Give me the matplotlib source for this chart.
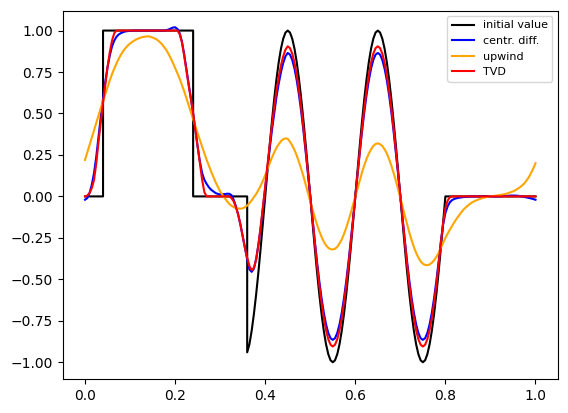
import numpy as np
import matplotlib
matplotlib.use("Agg")
import matplotlib.pyplot as plt

# grid of the numerical solution (dx = 0.005)
x = np.linspace(0.0, 1.0, 201)

# initial value: step part + wave packet
x_step = [0.0, 0.04, 0.04, 0.24, 0.24, 0.36]
y_step = [0.0, 0.0, 1.0, 1.0, 0.0, 0.0]
x_wave = np.linspace(0.36, 0.80, 89)
y_wave = [-0.94, -0.891, -0.809, -0.707, -0.588, -0.454, -0.309, -0.156, 0.0,
          0.156, 0.309, 0.454, 0.588, 0.707, 0.809, 0.891, 0.951, 0.988, 1.0,
          0.988, 0.951, 0.891, 0.809, 0.707, 0.588, 0.454, 0.309, 0.156, 0.0,
          -0.156, -0.309, -0.454, -0.588, -0.707, -0.809, -0.891, -0.951, -0.988, -1.0,
          -0.988, -0.951, -0.891, -0.809, -0.707, -0.588, -0.454, -0.309, -0.156, 0.0,
          0.156, 0.309, 0.454, 0.588, 0.707, 0.809, 0.891, 0.951, 0.988, 1.0,
          0.988, 0.951, 0.891, 0.809, 0.707, 0.588, 0.454, 0.309, 0.156, 0.0,
          -0.156, -0.309, -0.454, -0.588, -0.707, -0.809, -0.891, -0.951, -0.988, -1.0,
          -0.988, -0.951, -0.891, -0.809, -0.707, -0.588, -0.454, -0.309, -0.156, 0.0]
x_tail = [1.0]
y_tail = [0.0]

centr_diff = [
    -0.02, -0.01, 0.02, 0.07, 0.14, 0.24, 0.36, 0.48, 0.59, 0.69,
    0.78, 0.85, 0.905, 0.94, 0.963, 0.977, 0.985, 0.991, 0.995, 0.997,
    0.998, 0.999, 1.0, 1.0, 1.0, 1.0, 1.0, 1.0, 1.0, 1.0,
    1.0, 1.0, 1.0, 1.0, 1.0, 1.0, 1.002, 1.006, 1.012, 1.018,
    1.02, 1.01, 0.985, 0.935, 0.86, 0.77, 0.68, 0.59, 0.50, 0.40,
    0.30, 0.21, 0.14, 0.10, 0.075, 0.055, 0.04, 0.03, 0.02, 0.015,
    0.012, 0.012, 0.014, 0.016, 0.016, 0.008, -0.02, -0.06, -0.11, -0.17,
    -0.24, -0.31, -0.38, -0.44, -0.455, -0.435, -0.375, -0.29, -0.19, -0.07,
    0.05, 0.17, 0.29, 0.40, 0.50, 0.60, 0.68, 0.75, 0.805, 0.845,
    0.865, 0.855, 0.823, 0.771, 0.70, 0.612, 0.509, 0.393, 0.267, 0.135,
    0.0, -0.135, -0.267, -0.393, -0.509, -0.612, -0.70, -0.771, -0.823, -0.855,
    -0.865, -0.855, -0.823, -0.771, -0.70, -0.612, -0.509, -0.393, -0.267, -0.135,
    0.0, 0.135, 0.267, 0.393, 0.509, 0.612, 0.70, 0.771, 0.823, 0.855,
    0.865, 0.855, 0.823, 0.771, 0.70, 0.612, 0.509, 0.393, 0.267, 0.135,
    0.0, -0.135, -0.267, -0.393, -0.509, -0.612, -0.70, -0.771, -0.823, -0.855,
    -0.865, -0.855, -0.823, -0.771, -0.70, -0.612, -0.509, -0.393, -0.27, -0.17,
    -0.10, -0.06, -0.035, -0.022, -0.015, -0.011, -0.008, -0.006, -0.004, -0.003,
    -0.002, -0.001, 0.0, 0.0, 0.0, 0.0, 0.0, 0.0, 0.0, 0.0,
    0.0, 0.0, 0.0, 0.0, 0.0, 0.001, 0.002, 0.003, 0.004, 0.005,
    0.005, 0.005, 0.004, 0.002, 0.0, -0.003, -0.006, -0.009, -0.012, -0.016,
    -0.02]

upwind = [
    0.22, 0.265, 0.31, 0.355, 0.40, 0.445, 0.49, 0.533, 0.575, 0.618,
    0.66, 0.70, 0.738, 0.772, 0.803, 0.831, 0.856, 0.877, 0.895, 0.91,
    0.922, 0.932, 0.941, 0.948, 0.954, 0.959, 0.962, 0.964, 0.965, 0.963,
    0.958, 0.952, 0.945, 0.933, 0.92, 0.903, 0.885, 0.861, 0.835, 0.806,
    0.775, 0.743, 0.71, 0.673, 0.635, 0.593, 0.55, 0.508, 0.465, 0.422,
    0.38, 0.34, 0.30, 0.26, 0.22, 0.185, 0.15, 0.117, 0.085, 0.057,
    0.03, 0.01, -0.01, -0.028, -0.045, -0.056, -0.065, -0.07, -0.073, -0.074,
    -0.072, -0.065, -0.055, -0.041, -0.024, -0.005, 0.015, 0.039, 0.065, 0.095,
    0.128, 0.165, 0.20, 0.235, 0.265, 0.293, 0.315, 0.333, 0.345, 0.35,
    0.347, 0.33, 0.307, 0.28, 0.246, 0.207, 0.165, 0.12, 0.07, 0.02,
    -0.03, -0.08, -0.126, -0.17, -0.209, -0.243, -0.273, -0.295, -0.31, -0.318,
    -0.32, -0.316, -0.304, -0.284, -0.259, -0.226, -0.188, -0.145, -0.099, -0.05,
    0.0, 0.05, 0.099, 0.145, 0.188, 0.226, 0.259, 0.284, 0.304, 0.316,
    0.32, 0.315, 0.304, 0.284, 0.259, 0.225, 0.186, 0.142, 0.095, 0.044,
    -0.009, -0.063, -0.117, -0.168, -0.218, -0.264, -0.305, -0.34, -0.369, -0.391,
    -0.406, -0.413, -0.415, -0.41, -0.40, -0.385, -0.365, -0.34, -0.31, -0.28,
    -0.25, -0.225, -0.20, -0.177, -0.155, -0.134, -0.115, -0.097, -0.08, -0.067,
    -0.055, -0.044, -0.035, -0.028, -0.022, -0.017, -0.012, -0.008, -0.005, -0.002,
    0.0, 0.002, 0.004, 0.006, 0.008, 0.01, 0.013, 0.016, 0.02, 0.025,
    0.03, 0.037, 0.045, 0.054, 0.065, 0.078, 0.095, 0.115, 0.14, 0.168,
    0.20]

tvd = [
    0.0, 0.005, 0.02, 0.05, 0.10, 0.20, 0.33, 0.45, 0.565, 0.675,
    0.78, 0.87, 0.94, 0.985, 1.0, 1.0, 1.0, 1.0, 1.0, 1.0,
    1.0, 1.0, 1.0, 1.0, 1.0, 1.0, 1.0, 1.0, 1.0, 1.0,
    1.0, 1.0, 1.0, 1.0, 1.0, 1.0, 1.0, 1.0, 1.0, 1.0,
    1.0, 1.0, 0.98, 0.93, 0.85, 0.76, 0.67, 0.59, 0.50, 0.40,
    0.30, 0.20, 0.10, 0.025, 0.0, 0.0, 0.0, 0.0, 0.0, 0.0,
    0.0, 0.0, 0.0, 0.0, 0.0, -0.01, -0.03, -0.065, -0.11, -0.17,
    -0.24, -0.31, -0.37, -0.42, -0.445, -0.43, -0.38, -0.29, -0.18, -0.06,
    0.06, 0.19, 0.31, 0.43, 0.54, 0.64, 0.72, 0.79, 0.845, 0.885,
    0.905, 0.894, 0.861, 0.806, 0.732, 0.64, 0.532, 0.411, 0.28, 0.141,
    0.0, -0.141, -0.28, -0.411, -0.532, -0.64, -0.732, -0.806, -0.861, -0.894,
    -0.905, -0.894, -0.861, -0.806, -0.732, -0.64, -0.532, -0.411, -0.28, -0.141,
    0.0, 0.141, 0.28, 0.411, 0.532, 0.64, 0.732, 0.806, 0.861, 0.894,
    0.905, 0.894, 0.861, 0.806, 0.732, 0.64, 0.532, 0.411, 0.28, 0.141,
    0.0, -0.141, -0.28, -0.411, -0.532, -0.64, -0.732, -0.806, -0.861, -0.894,
    -0.905, -0.894, -0.861, -0.806, -0.732, -0.64, -0.532, -0.411, -0.28, -0.16,
    -0.07, -0.025, -0.005, 0.0, 0.0, 0.0, 0.0, 0.0, 0.0, 0.0,
    0.0, 0.0, 0.0, 0.0, 0.0, 0.0, 0.0, 0.0, 0.0, 0.0,
    0.0, 0.0, 0.0, 0.0, 0.0, 0.0, 0.0, 0.0, 0.0, 0.0,
    0.0, 0.0, 0.0, 0.0, 0.0, 0.0, 0.0, 0.0, 0.0, 0.0,
    0.0]

labels = ["initial value", "centr. diff.", "upwind", "TVD"]
colors = ["black", "blue", "orange", "red"]

x_init = list(x_step) + list(x_wave) + x_tail
y_init = y_step + y_wave + y_tail

fig = plt.figure(figsize=(5.68, 4.13), dpi=100)
ax = fig.add_axes([62.5 / 568, 34 / 413, 495.5 / 568, 368.5 / 413])

ax.plot(x_init, y_init, color=colors[0], label=labels[0])
ax.plot(x, centr_diff, color=colors[1], label=labels[1])
ax.plot(x, upwind, color=colors[2], label=labels[2])
ax.plot(x, tvd, color=colors[3], label=labels[3])

ax.legend(loc="upper right", fontsize=8)

fig.savefig("out.png", dpi=100)
